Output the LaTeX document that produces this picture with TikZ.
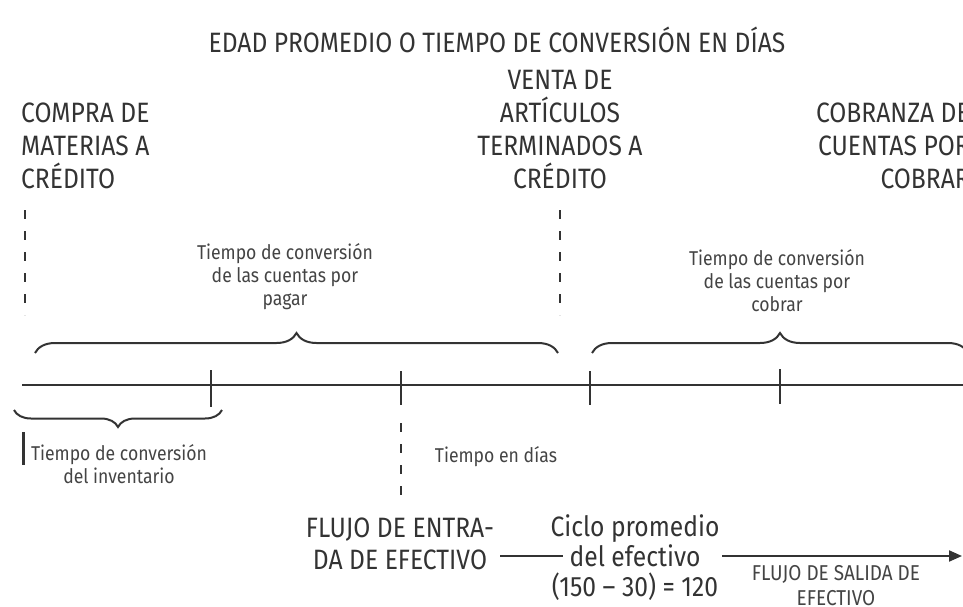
\documentclass[tikz,border=0pt]{standalone}
\usepackage{fontspec}
\setmainfont{Fira Sans}[FakeStretch=0.88]
\usetikzlibrary{decorations.pathreplacing,arrows.meta}
\definecolor{ink}{HTML}{333333}
\definecolor{inkl}{HTML}{444444}
\begin{document}
\begin{tikzpicture}[x=1pt,y=-1pt,
  big/.style={font=\fontsize{28}{33}\selectfont, text=ink, inner sep=0pt, align=center},
  small/.style={font=\fontsize{20}{23}\selectfont, text=inkl, inner sep=0pt, align=center},
  tiny/.style={font=\fontsize{21.5}{25}\selectfont, text=inkl, inner sep=0pt, align=center},
  axis/.style={draw=ink, line width=2pt},
  tick/.style={draw=ink, line width=2pt},
  dashv/.style={draw=ink, line width=2.5pt, dash pattern=on 9pt off 12pt},
  bracebig/.style={draw=ink, line width=2pt, decorate, decoration={brace, amplitude=20pt}},
  bracesmall/.style={draw=ink, line width=2pt, decorate, decoration={brace, amplitude=17pt}},
  flow/.style={draw=ink, line width=2pt}
]
\useasboundingbox (0,0) rectangle (963,607);
\clip (0,0) rectangle (963,607);

% title
\node[big] (title) at (497,40) {EDAD PROMEDIO O TIEMPO DE CONVERSIÓN EN DÍAS};

% event labels
\node[big, align=left, anchor=west] (compra) at (21,146) {COMPRA DE\\MATERIAS A\\CRÉDITO};
\node[big] (venta) at (560,130) {VENTA DE\\ARTÍCULOS\\TERMINADOS A\\CRÉDITO};
\node[big, align=right, anchor=east] (cobranza) at (970,146) {COBRANZA DE\\CUENTAS POR\\COBRAR};

% dashed markers
\coordinate (d1a) at (25,210);  \coordinate (d1b) at (25,315);
\coordinate (d2a) at (560,210); \coordinate (d2b) at (560,315);
\draw[dashv] (d1a) -- (d1b);
\draw[dashv] (d2a) -- (d2b);

% brace labels
\node[small] (cpp) at (285,277) {Tiempo de conversión\\de las cuentas por\\pagar};
\node[small] (cpc) at (777,281) {Tiempo de conversión\\de las cuentas por\\cobrar};

% braces above the axis
\coordinate (b1a) at (35,353);  \coordinate (b1b) at (558,353);
\coordinate (b2a) at (592,353); \coordinate (b2b) at (968,353);
\draw[bracebig] (b1a) -- (b1b);
\draw[bracebig] (b2a) -- (b2b);

% time axis
\coordinate (ax0) at (22,385); \coordinate (ax1) at (963,385);
\draw[axis] (ax0) -- (ax1);
\foreach \x/\ya/\yb in {211/370/407, 401/371/405, 590/371/405, 780/369/404}
  \draw[tick] (\x,\ya) -- (\x,\yb);

% brace below the axis
\coordinate (b3a) at (222,410); \coordinate (b3b) at (14,410);
\draw[bracesmall] (b3a) -- (b3b);
\coordinate (bar1) at (23,432); \coordinate (bar2) at (23,465);
\draw[draw=ink, line width=3pt] (bar1) -- (bar2);
\node[small] (inv) at (119,464) {Tiempo de conversión\\del inventario};

% cash inflow marker
\coordinate (d3a) at (401,423); \coordinate (d3b) at (401,500);
\draw[dashv] (d3a) -- (d3b);
\node[small] (dias) at (496,457) {Tiempo en días};

% bottom row
\node[big, font=\fontsize{28}{32}\selectfont] (entrada) at (400,544) {FLUJO DE ENTRA-\\DA DE EFECTIVO};
\node[big, font=\fontsize{28}{30}\selectfont] (ciclo) at (635,558) {Ciclo promedio\\del efectivo\\(150 – 30) = 120};
\node[tiny] (salida) at (836,586) {FLUJO DE SALIDA DE\\EFECTIVO};
\coordinate (l1a) at (500,556); \coordinate (l1b) at (563,556);
\coordinate (l2a) at (722,556); \coordinate (l2b) at (962,556);
\draw[flow] (l1a) -- (l1b);
\draw[flow, -{Triangle[length=13pt,width=11pt]}] (l2a) -- (l2b);
\end{tikzpicture}
\end{document}
